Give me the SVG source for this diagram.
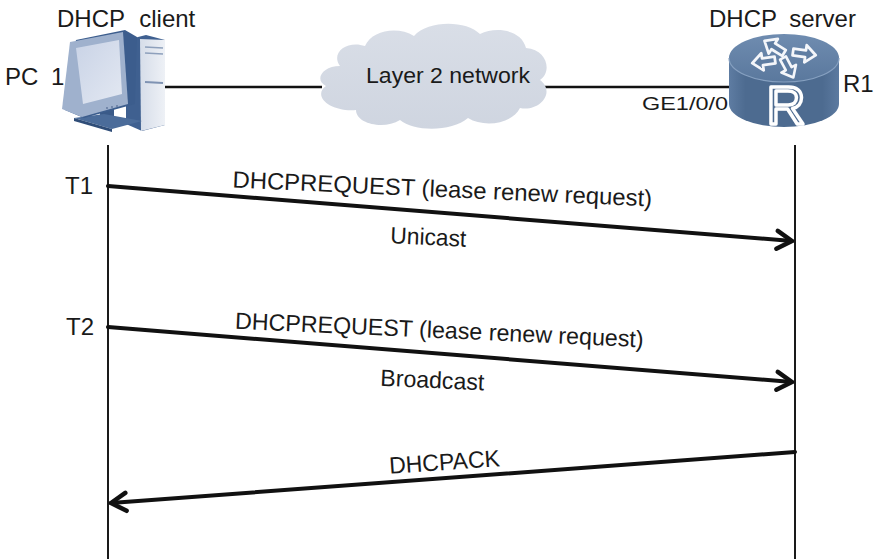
<svg xmlns="http://www.w3.org/2000/svg" width="877" height="559" viewBox="0 0 877 559">
  <style>
    text { font-family: "Liberation Sans", Arial, sans-serif; fill: #1a1a1a; }
    .lbl { font-size: 24px; }
    .msg { font-size: 23.5px; text-anchor: middle; }
    .life { stroke: #1a1a1a; stroke-width: 2; fill: none; }
    .link { stroke: #111; stroke-width: 2.6; fill: none; }
    .arrow { stroke: #111; stroke-width: 4; fill: none; stroke-linecap: round; marker-end: url(#chev); }
  </style>
  <defs>
    <marker id="chev" markerUnits="userSpaceOnUse" markerWidth="30" markerHeight="30" refX="0" refY="0" orient="auto" viewBox="-20 -15 30 30" overflow="visible">
      <path d="M-15,-9 L0,0 L-15,9" fill="none" stroke="#111" stroke-width="4.5" stroke-linecap="round" stroke-linejoin="round"/>
    </marker>
    <linearGradient id="cloudFill" x1="0" y1="0" x2="0" y2="1">
      <stop offset="0" stop-color="#d9dee7"/>
      <stop offset="1" stop-color="#cfd5e0"/>
    </linearGradient>
    <linearGradient id="routerBody" x1="0" y1="0" x2="1" y2="0">
      <stop offset="0" stop-color="#5e7ca2"/>
      <stop offset="0.15" stop-color="#4d6b90"/>
      <stop offset="0.85" stop-color="#4d6b90"/>
      <stop offset="1" stop-color="#5c7aa0"/>
    </linearGradient>
    <linearGradient id="routerTop" x1="0" y1="0" x2="0" y2="1">
      <stop offset="0" stop-color="#6f8cb0"/>
      <stop offset="1" stop-color="#5a789d"/>
    </linearGradient>
    <linearGradient id="screen" x1="0" y1="0" x2="1" y2="1">
      <stop offset="0" stop-color="#c9d3e6"/>
      <stop offset="1" stop-color="#e3e8f2"/>
    </linearGradient>
    <linearGradient id="tower" x1="0" y1="0" x2="1" y2="0">
      <stop offset="0" stop-color="#d6dde9"/>
      <stop offset="1" stop-color="#eef1f6"/>
    </linearGradient>
    <!-- small arrow glyph for the router's top face, pointing along +x -->
    <path id="rarrow" d="M0,-3 L11,-3 L11,-7.5 L20,0 L11,7.5 L11,3 L0,3 Z"/>
  </defs>

  <!-- Top-level titles -->
  <text class="lbl" x="57" y="27" style="word-spacing:8px">DHCP client</text>
  <text class="lbl" x="709" y="27" style="word-spacing:6px">DHCP server</text>

  <!-- Physical links -->
  <g id="links">
    <line class="link" x1="162" y1="87" x2="322" y2="87"/>
    <line class="link" x1="542" y1="87" x2="731" y2="87"/>
  </g>

  <!-- PC 1 -->
  <g id="pc1">
    <text class="lbl" x="5" y="85" style="word-spacing:6px">PC 1</text>
    <!-- tower -->
    <polygon points="126,40 146,35 165,40 165,125 142,131 126,124" fill="#3f6090"/>
    <polygon points="140,39 165,40 165,125 141,131" fill="url(#tower)"/>
    <line x1="145" y1="47" x2="163" y2="48" stroke="#8ea0bc" stroke-width="1.5"/>
    <line x1="145" y1="53" x2="163" y2="54" stroke="#8ea0bc" stroke-width="1.5"/>
    <line x1="145" y1="82" x2="163" y2="83" stroke="#7f93b3" stroke-width="2"/>
    <!-- stand -->
    <polygon points="100,107 114,108 114,122 100,121" fill="#3a5a88"/>
    <polygon points="74,118 104,114 142,121 112,129" fill="#4b6c9a"/>
    <polygon points="74,118 112,129 112,132 74,121" fill="#2f4d78"/>
    <!-- monitor shell -->
    <polygon points="76,40 125,30 137,37 135,104 84,118 65,110" fill="#3c5d8d"/>
    <!-- bezel -->
    <polygon points="70,42 123,32 128,104 82,117 62,109" fill="#9fb1cd"/>
    <!-- screen -->
    <polygon points="76,48 119,40 122,94 83,104" fill="url(#screen)"/>
    <circle cx="107" cy="108" r="0.9" fill="#5f759a"/>
    <circle cx="112" cy="107" r="0.9" fill="#5f759a"/>
    <circle cx="117" cy="106" r="0.9" fill="#5f759a"/>
  </g>

  <!-- Layer 2 cloud -->
  <g id="cloud">
    <path d="M340,66
             C330,52 348,40 365,46
             C372,30 398,26 414,36
             C428,20 466,20 480,34
             C496,26 522,30 526,48
             C548,50 552,72 540,80
             C556,92 540,112 520,108
             C512,124 484,128 468,118
             C452,132 414,132 400,120
             C384,130 356,124 356,110
             C330,112 312,96 326,86
             C314,80 322,66 340,66 Z"
          fill="url(#cloudFill)"/>
    <text x="448" y="83" font-size="22" text-anchor="middle" textLength="164" lengthAdjust="spacingAndGlyphs">Layer 2 network</text>
  </g>

  <!-- Router R1 -->
  <g id="r1">
    <text x="642" y="110" font-size="19" textLength="86" lengthAdjust="spacingAndGlyphs">GE1/0/0</text>
    <text class="lbl" x="843" y="92">R1</text>
    <path d="M729,58 L729,104 A55,23 0 0 0 839,104 L839,58 Z" fill="url(#routerBody)"/>
    <ellipse cx="784" cy="58" rx="55" ry="24" fill="url(#routerTop)"/>
    <path d="M729,58 A55,24 0 0 0 839,58" fill="none" stroke="#86a0c0" stroke-width="1.2"/>
    <!-- direction arrows on the top face -->
    <g fill="#5f7da2" stroke="#f4f6fa" stroke-width="2.4" stroke-linejoin="round">
      <use href="#rarrow" transform="translate(784,53) rotate(-148) scale(1.15)"/>
      <use href="#rarrow" transform="translate(793,52) rotate(8) scale(1.15)"/>
      <use href="#rarrow" transform="translate(783,58) rotate(62) scale(1.1)"/>
      <use href="#rarrow" transform="translate(775,60) rotate(172) scale(1.15)"/>
    </g>
    <text x="786" y="124" font-size="54" text-anchor="middle" style="fill:#4d6b90;stroke:#ffffff;stroke-width:3.4;stroke-linejoin:round">R</text>
  </g>

  <!-- Lifelines -->
  <g id="lifelines">
    <line class="life" x1="108" y1="145" x2="108" y2="559"/>
    <line class="life" x1="795" y1="145" x2="795" y2="559"/>
  </g>

  <!-- Time markers -->
  <g id="times">
    <text class="lbl" x="65" y="194">T1</text>
    <text class="lbl" x="66" y="335">T2</text>
  </g>

  <!-- Messages -->
  <g id="connectors">
    <line class="arrow" x1="108" y1="186" x2="792" y2="241"/>
    <line class="arrow" x1="108" y1="327" x2="792" y2="382"/>
    <line class="arrow" x1="795" y1="452" x2="111" y2="503"/>
  </g>

  <g id="messages">
    <text class="msg" x="442" y="197" textLength="420" lengthAdjust="spacingAndGlyphs" transform="rotate(2.6 442 197)">DHCPREQUEST (lease renew request)</text>
    <text class="msg" x="428" y="245" textLength="76" lengthAdjust="spacingAndGlyphs" transform="rotate(2.6 428 245)">Unicast</text>
    <text class="msg" x="439" y="338" textLength="409" lengthAdjust="spacingAndGlyphs" transform="rotate(2.6 439 338)">DHCPREQUEST (lease renew request)</text>
    <text class="msg" x="432" y="388" textLength="104" lengthAdjust="spacingAndGlyphs" transform="rotate(2.6 432 388)">Broadcast</text>
    <text class="msg" x="445" y="470" textLength="111" lengthAdjust="spacingAndGlyphs" transform="rotate(-4 445 470)">DHCPACK</text>
  </g>
</svg>
